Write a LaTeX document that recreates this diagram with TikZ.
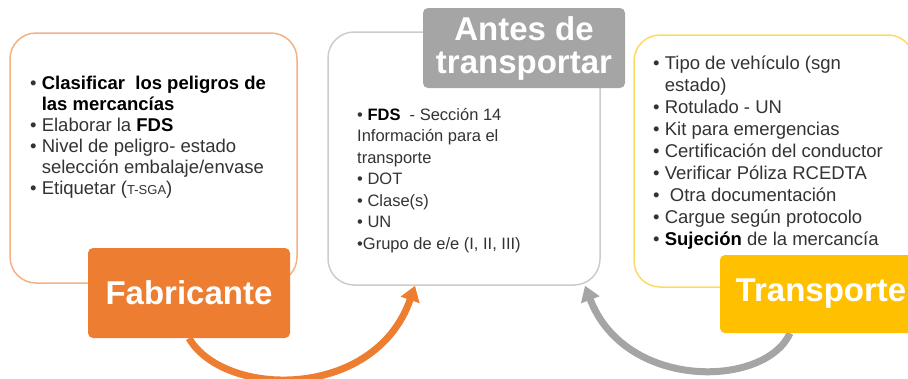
\documentclass[tikz,border=0pt]{standalone}
\usepackage{fontspec}
\setmainfont{Liberation Sans}
\usetikzlibrary{positioning,arrows.meta}
\pgfdeclarelayer{background}
\pgfsetlayers{background,main}
\definecolor{fabOrange}{HTML}{ED7D31}
\definecolor{fabLine}{HTML}{F4B183}
\definecolor{antGray}{HTML}{A5A5A5}
\definecolor{antLine}{HTML}{CCCCCC}
\definecolor{traYellow}{HTML}{FFC000}
\definecolor{traLine}{HTML}{FFD966}
\tikzset{
  contentbox/.style={draw=#1, line width=1.5pt, rounded corners=26pt, fill=white, inner sep=0pt},
  titlebox/.style={fill=#1, rounded corners=5pt, text=white, align=center, inner sep=0pt,
    minimum width=202pt, font=\bfseries\fontsize{33}{33}\selectfont},
  itemlist/.style={anchor=north west, align=left, inner sep=0pt, text=black!80},
  flow/.style={draw=#1, line width=7pt, -{Triangle[length=15pt,width=19pt]}},
}
\newcommand{\bul}{\textbullet\ }
\newcommand{\hang}{\phantom{\textbullet\ }}

\begin{document}
\begin{tikzpicture}[x=1pt,y=-1pt]
        \useasboundingbox (0,0) rectangle (908,378);
        \clip (0,0) rectangle (908,378);

        % content boxes
        \node [contentbox=fabLine, minimum width=287pt, minimum height=250pt] (fabbox) at (153.5,158) {};
        \node [contentbox=antLine, minimum width=272pt, minimum height=253pt] (antbox) at (464,158.5) {};
        \node [contentbox=traLine, minimum width=280pt, minimum height=252pt] (trabox) at (774,161) {};

        % lists
        \node [itemlist, font=\fontsize{18.5}{21}\selectfont] (fablist) at (30,76)
          {\bul\textbf{\color{black}Clasificar\ \ los peligros de}\\
           \hang\textbf{\color{black}las mercancías}\\
           \bul Elaborar la \textbf{\color{black}FDS}\\
           \bul Nivel de peligro- estado\\
           \hang selección embalaje/envase\\
           \bul Etiquetar ({\fontsize{13}{13}\selectfont T-SGA})};
        \node [itemlist, font=\fontsize{16.5}{21.5}\selectfont] (antlist) at (357,108)
          {\bul\textbf{\color{black}FDS}\ \ - Sección 14\\
           Información para el\\
           transporte\\
           \bul DOT\\
           \bul Clase(s)\\
           \bul UN\\
           \textbullet Grupo de e/e (I, II, III)};
        \node [itemlist, font=\fontsize{18.5}{22}\selectfont] (tralist) at (653,56)
          {\bul Tipo de vehículo (sgn\\
           \hang estado)\\
           \bul Rotulado - UN\\
           \bul Kit para emergencias\\
           \bul Certificación del conductor\\
           \bul Verificar Póliza RCEDTA\\
           \bul\ Otra documentación\\
           \bul Cargue según protocolo\\
           \bul\textbf{\color{black}Sujeción} de la mercancía};

        % titles
        \node [titlebox=fabOrange, minimum height=90pt] (fab) at (189,293) {Fabricante};
        \node [titlebox=antGray, minimum height=80pt] (ant) at (524,48) {Antes de\\transportar};
        \node [titlebox=traYellow, minimum height=78pt] (tra) at (821,294) {Transporte};

        % arrows
        \begin{pgfonlayer}{background}
          \draw [flow=fabOrange] (fab.south) .. controls +(35,60) and +(-40,115) .. ([xshift=-49pt]antbox.south);
          \draw [flow=antGray] ([xshift=-31pt]tra.south) .. controls +(-25,55) and +(40,105) .. ([xshift=121pt]antbox.south);
        \end{pgfonlayer}
      \end{tikzpicture}
\end{document}
